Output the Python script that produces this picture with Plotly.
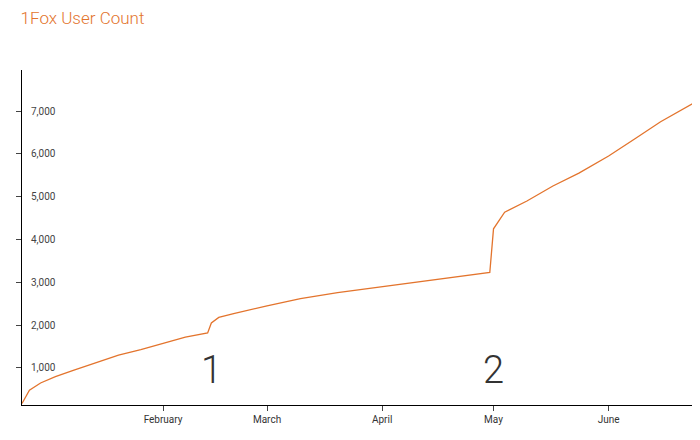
import plotly.graph_objects as go

dates = ["2017-12-25", "2017-12-27", "2017-12-30", "2018-01-03", "2018-01-08", "2018-01-14",
         "2018-01-20", "2018-01-26", "2018-02-01", "2018-02-07", "2018-02-13", "2018-02-14",
         "2018-02-16", "2018-02-20", "2018-03-01", "2018-03-10", "2018-03-20", "2018-04-01",
         "2018-04-10", "2018-04-20", "2018-04-30", "2018-05-01", "2018-05-04", "2018-05-10",
         "2018-05-17", "2018-05-24", "2018-06-01", "2018-06-08", "2018-06-15", "2018-06-24"]
users = [170, 480, 650, 800, 950, 1130, 1300, 1430, 1580, 1720, 1820, 2050,
         2180, 2270, 2450, 2620, 2760, 2900, 3000, 3120, 3230, 4250, 4640, 4900,
         5250, 5550, 5950, 6350, 6750, 7190]

tick_dates = ["2018-01-01", "2018-02-01", "2018-03-01", "2018-04-01", "2018-05-01", "2018-06-01"]
tick_names = ["2018", "February", "March", "April", "May", "June"]

fig = go.Figure(go.Scatter(x=dates, y=users, mode="lines",
                           line=dict(color="#e3742d", width=1.3)))

for label, day in [("1", "2018-02-14"), ("2", "2018-05-01")]:
    fig.add_annotation(x=day, y=950, text=label, showarrow=False,
                       font=dict(size=38, color="#333", family="Roboto Light, Roboto"))

fig.update_layout(
    width=700, height=440, template="plotly_white", showlegend=False,
    margin=dict(l=14, r=14, t=62, b=43),
    title=dict(text="1Fox User Count", x=0.018, xanchor="left", y=0.99, yanchor="top",
               font=dict(size=17, color="#e3742d", family="Roboto Light, Roboto")),
    font=dict(family="Roboto", size=10, color="#333"),
    plot_bgcolor="white",
)
fig.update_xaxes(range=["2017-12-25", "2018-06-24"], showgrid=False, showline=True,
                 linecolor="black", ticks="outside", ticklen=5, automargin=False,
                 tickvals=tick_dates, ticktext=tick_names)
fig.update_yaxes(range=[135, 7960], showgrid=False, showline=True, linecolor="black",
                 ticks="outside", ticklen=5, ticklabelposition="inside", automargin=False,
                 tickvals=[1000, 2000, 3000, 4000, 5000, 6000, 7000], tickformat=",",
                 zeroline=False, ticklabelstandoff=8)
fig.write_html("out.html")
